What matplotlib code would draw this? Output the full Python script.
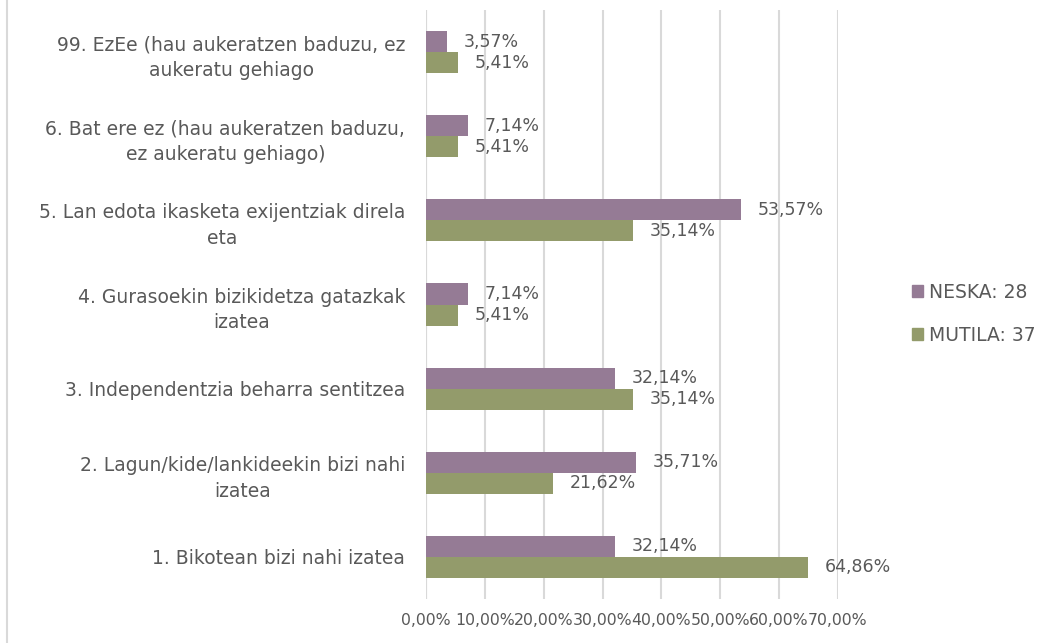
import numpy as np
import matplotlib.pyplot as plt
from matplotlib.patches import Patch

categories = [
    "1. Bikotean bizi nahi izatea",
    "2. Lagun/kide/lankideekin bizi nahi\nizatea",
    "3. Independentzia beharra sentitzea",
    "4. Gurasoekin bizikidetza gatazkak\nizatea",
    "5. Lan edota ikasketa exijentziak direla\neta",
    "6. Bat ere ez (hau aukeratzen baduzu,\nez aukeratu gehiago)",
    "99. EzEe (hau aukeratzen baduzu, ez\naukeratu gehiago",
]
neska = [32.14, 35.71, 32.14, 7.14, 53.57, 7.14, 3.57]
mutila = [64.86, 21.62, 35.14, 5.41, 35.14, 5.41, 5.41]
series_names = ["NESKA: 28", "MUTILA: 37"]
xticks = [0, 10, 20, 30, 40, 50, 60, 70]

c_neska = "#957B95"
c_mutila = "#939B6B"
txt = "#595959"

plt.rcParams["font.family"] = ["DejaVu Sans"]

fig = plt.figure(figsize=(10.59, 6.43), dpi=100)
ax = fig.add_axes([0.4023, 0.0684, 0.389, 0.916])

y = np.arange(len(categories))
h = 0.25
ax.barh(y + h / 2, neska, height=h, color=c_neska, zorder=3)
ax.barh(y - h / 2, mutila, height=h, color=c_mutila, zorder=3)

def fmt(v):
    return f"{v:.2f}%".replace(".", ",")

for yi, v in zip(y, neska):
    ax.annotate(fmt(v), (v, yi + h / 2), xytext=(12, 0), textcoords="offset points",
                va="center", ha="left", fontsize=12.5, color=txt)
for yi, v in zip(y, mutila):
    ax.annotate(fmt(v), (v, yi - h / 2), xytext=(12, 0), textcoords="offset points",
                va="center", ha="left", fontsize=12.5, color=txt)

ax.set_xlim(0, 70)
ax.set_ylim(-0.5, len(categories) - 0.5)
ax.set_xticks(xticks)
ax.set_xticklabels([fmt(t) for t in xticks], fontsize=11.3, color=txt)
ax.set_yticks(y)
ax.set_yticklabels(categories, fontsize=13.5, color=txt, ha="right",
                   multialignment="center", linespacing=1.45)
ax.tick_params(axis="y", length=0, pad=15)
ax.tick_params(axis="x", length=0, pad=10)
ax.grid(axis="x", color="#D9D9D9", linewidth=1.5, zorder=0)
for s in ax.spines.values():
    s.set_visible(False)
ax.axvline(0, color="#D9D9D9", linewidth=1.5, zorder=1)

handles = [Patch(color=c_neska), Patch(color=c_mutila)]
fig.legend(handles, series_names, loc="center left", bbox_to_anchor=(0.845, 0.512),
           frameon=False, fontsize=13.5, labelcolor=txt, handlelength=0.6,
           handleheight=0.6, handletextpad=0.3, labelspacing=1.3)

fig.add_artist(plt.Line2D([0.0066, 0.0066], [0, 1], color="#D9D9D9", linewidth=1.5))

fig.savefig("out.png", dpi=100)
